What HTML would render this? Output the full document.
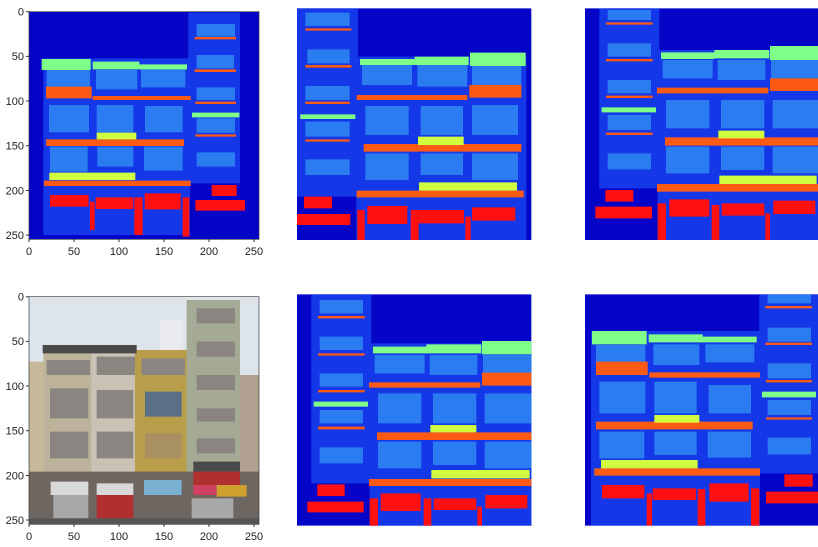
<!DOCTYPE html>
<html><head><meta charset="utf-8"><style>
html,body{margin:0;padding:0;background:#fff;width:818px;height:547px;overflow:hidden}
svg{display:block}
text{font-family:"Liberation Sans",sans-serif;font-size:11px;fill:#222}
.bg{fill:#0505c8}.bd{fill:#1438e8}.wi{fill:#2a7cf0}.or{fill:#ff5a14}.gr{fill:#80ff88}.ye{fill:#d0ff40}.re{fill:#ff1010}
</style></head><body>
<svg width="818" height="547" viewBox="0 0 818 547" xmlns="http://www.w3.org/2000/svg">
<!-- Panel 1 -->
<g transform="scale(0.33333)">
<path class="bg" d="M87 35H777V718H87Z"/>
<path class="bd" d="M130 175H570V705H130Z M565 38H720V550H565Z"/>
<path class="wi" d="M140 205H270V265H140Z M288 210H412V268H288Z M423 208H556V262H423Z M147 315H267V397H147Z M290 315H400V397H290Z M435 318H548V397H435Z M150 440H263V515H150Z M292 440H400V500H292Z M432 440H548V512H432Z M590 72H705V110H590Z M590 165H702V205H590Z M590 262H705V300H590Z M590 355H705V398H590Z M590 457H705V500H590Z"/>
<path class="or" d="M138 260H275V295H138Z M278 288H572V300H278Z M138 418H552V438H138Z M132 542H572V558H132Z M584 111H708V118H584Z M584 208H708V216H584Z M586 305H708V312H586Z M586 403H708V410H586Z"/>
<path class="gr" d="M125 177H272V210H125Z M278 185H418V208H278Z M418 193H561V208H418Z M576 338H718V352H576Z"/>
<path class="ye" d="M290 398H409V418H290Z M148 518H406V540H148Z"/>
<path class="re" d="M150 585H266V620H150Z M287 592H400V627H287Z M434 580H542V628H434Z M270 605H284V690H270Z M403 592H428V705H403Z M548 592H568V710H548Z M635 555H710V588H635Z M586 600H735V632H586Z"/>
<path d="M87 35H777V718H87Z" fill="none" stroke="#333" stroke-width="2"/>
</g>
<!-- Panel 2 -->
<g transform="translate(268,0) scale(0.33333)">
<path class="bg" d="M87 25H790V720H87Z"/>
<path class="bd" d="M87 25H270V590H87Z M265 170H775V720H265Z"/>
<path class="wi" d="M112 38H245V78H112Z M118 148H245V190H118Z M112 258H245V300H112Z M112 365H245V410H112Z M112 478H245V525H112Z M282 195H432V255H282Z M448 195H598V260H448Z M612 198H760V255H612Z M292 318H422V405H292Z M458 318H585V405H458Z M612 315H750V405H612Z M292 460H422V540H292Z M458 460H585V525H458Z M612 460H750V540H612Z"/>
<path class="or" d="M112 85H250V92H112Z M112 195H250V203H112Z M112 305H245V312H112Z M112 418H245V425H112Z M266 285H598V300H266Z M604 255H760V293H604Z M287 432H760V455H287Z M266 572H767V592H266Z"/>
<path class="gr" d="M97 343H262V357H97Z M276 177H440V195H276Z M440 170H602V195H440Z M606 158H773V198H606Z"/>
<path class="ye" d="M450 410H587V435H450Z M453 547H747V572H453Z"/>
<path class="re" d="M108 590H192V625H108Z M87 642H247V675H87Z M298 618H418V672H298Z M450 630H588V670H450Z M612 622H742V662H612Z M268 630H290V720H268Z M428 630H452V720H428Z M592 650H608V720H592Z"/>
</g>
<!-- Panel 3 -->
<g transform="translate(556,0) scale(0.33333)">
<path class="bg" d="M87 25H786V720H87Z"/>
<path class="bd" d="M130 25H310V565H130Z M305 150H786V720H305Z"/>
<path class="wi" d="M155 30H285V60H155Z M155 130H285V170H155Z M155 240H285V280H155Z M155 345H285V390H155Z M155 460H285V508H155Z M320 180H470V235H320Z M485 180H628V240H485Z M645 180H786V235H645Z M330 300H460V385H330Z M495 300H625V385H495Z M650 300H786V385H650Z M330 440H460V520H330Z M495 440H625V510H495Z M650 440H786V520H650Z"/>
<path class="or" d="M150 67H290V74H150Z M150 177H290V184H150Z M150 287H290V294H150Z M150 398H290V405H150Z M303 263H637V280H303Z M642 235H786V273H642Z M327 412H786V437H327Z M303 552H786V575H303Z"/>
<path class="gr" d="M137 322H300V337H137Z M315 157H475V177H315Z M475 150H640V175H475Z M642 138H786V180H642Z"/>
<path class="ye" d="M487 392H625V415H487Z M490 527H782V552H490Z"/>
<path class="re" d="M148 570H232V605H148Z M118 620H288V655H118Z M340 598H460V650H340Z M497 610H625V647H497Z M652 602H778V642H652Z M305 610H330V720H305Z M467 615H490V720H467Z M628 640H642V720H628Z"/>
</g>
<!-- Panel 4 photo -->
<g transform="translate(0,285) scale(0.33333)">
<path fill="#dde4ea" d="M87 35H777V718H87Z"/>
<path fill="#e8eaee" d="M480 105H550V200H480Z"/>
<path fill="#c8b89a" d="M87 230H135V710H87Z"/>
<path fill="#bdb39b" d="M130 185H275V710H130Z"/>
<path fill="#c9c2b5" d="M275 190H410V710H275Z"/>
<path fill="#b89e4a" d="M405 195H578V710H405Z"/>
<path fill="#a5aa95" d="M560 45H720V560H560Z"/>
<path fill="#b0a090" d="M720 270H777V710H720Z"/>
<path fill="#4a4a4a" d="M128 180H410V205H128Z M580 530H720V565H580Z"/>
<path fill="#8a8580" d="M150 310H265V400H150Z M290 315H400V400H290Z M150 440H265V520H150Z M290 440H400V520H290Z M140 225H270V270H140Z M290 215H405V270H290Z M425 220H555V270H425Z M590 70H705V115H590Z M590 170H705V215H590Z M590 270H705V315H590Z M590 370H705V410H590Z M590 460H705V505H590Z"/>
<path fill="#a89060" d="M435 445H545V520H435Z"/>
<path fill="#5a7088" d="M435 320H545V395H435Z"/>
<path fill="#6e6660" d="M87 560H777V710H87Z"/>
<path fill="#d8d8d8" d="M152 590H265V630H152Z M290 595H400V630H290Z"/>
<path fill="#b03030" d="M290 630H400V700H290Z M580 560H720V600H580Z"/>
<path fill="#7ab0d0" d="M432 585H545V630H432Z"/>
<path fill="#d04060" d="M580 600H650V630H580Z"/>
<path fill="#d0a030" d="M650 600H740V635H650Z"/>
<path fill="#a8a8a8" d="M575 640H700V710H575Z M160 630H265V700H160Z"/>
<path fill="#555" d="M87 700H777V718H87Z"/>
<path d="M87 35H777V718H87Z" fill="none" stroke="#333" stroke-width="2"/>
</g>
<!-- Panel 5 -->
<g transform="translate(268,285) scale(0.33333)">
<path class="bg" d="M87 28H790V722H87Z"/>
<path class="bd" d="M130 28H310V595H130Z M305 175H790V722H305Z"/>
<path class="wi" d="M155 45H285V85H155Z M155 155H285V195H155Z M155 265H285V305H155Z M155 375H285V415H155Z M155 487H285V535H155Z M320 210H470V265H320Z M485 210H628V270H485Z M645 210H790V265H645Z M330 325H460V415H330Z M495 325H625V415H495Z M650 325H790V415H650Z M330 470H460V550H330Z M495 470H625V540H495Z M650 470H790V550H650Z"/>
<path class="or" d="M150 93H290V100H150Z M150 205H290V212H150Z M150 315H290V322H150Z M150 425H290V433H150Z M303 292H637V308H303Z M642 263H790V302H642Z M327 442H790V465H327Z M303 582H790V603H303Z"/>
<path class="gr" d="M137 350H300V365H137Z M315 185H475V205H315Z M475 178H640V205H475Z M642 168H790V208H642Z"/>
<path class="ye" d="M487 420H625V442H487Z M490 555H785V580H490Z"/>
<path class="re" d="M148 598H230V633H148Z M118 650H287V682H118Z M338 625H458V678H338Z M497 640H625V675H497Z M652 630H778V670H652Z M305 640H330V722H305Z M467 640H490V722H467Z M628 665H642V722H628Z"/>
</g>
<!-- Panel 6 -->
<g transform="translate(556,285) scale(0.33333)">
<path class="bg" d="M87 28H786V722H87Z"/>
<path class="bd" d="M105 138H612V722H105Z M610 28H786V565H610Z"/>
<path class="wi" d="M635 28H765V55H635Z M635 128H765V170H635Z M635 235H765V280H635Z M635 345H765V390H635Z M635 458H765V508H635Z M120 180H268V232H120Z M292 178H430V240H292Z M448 178H595V232H448Z M130 290H268V385H130Z M295 290H422V385H295Z M458 300H585V385H458Z M130 440H265V520H130Z M295 440H422V510H295Z M455 440H585V518H455Z"/>
<path class="or" d="M628 63H768V70H628Z M628 173H768V180H628Z M630 285H768V292H630Z M630 397H768V404H630Z M120 230H275V270H120Z M280 262H612V278H280Z M120 410H590V433H120Z M115 550H612V572H115Z"/>
<path class="gr" d="M618 320H780V337H618Z M108 138H272V178H108Z M278 148H440V172H278Z M440 155H602V172H440Z"/>
<path class="ye" d="M295 390H430V413H295Z M135 525H425V550H135Z"/>
<path class="re" d="M138 600H265V640H138Z M290 610H420V645H290Z M460 595H578V650H460Z M272 625H288V722H272Z M425 612H448V722H425Z M585 610H610V722H585Z M685 568H770V605H685Z M630 620H786V655H630Z"/>
</g>
<!-- Axes ticks panel 1 -->
<g stroke="#333" stroke-width="1">
<path d="M26 11.7H29 M26 56.4H29 M26 101H29 M26 145.8H29 M26 190.5H29 M26 235H29"/>
<path d="M29 239V242 M74 239V242 M119 239V242 M164 239V242 M209 239V242 M254 239V242"/>
<path d="M26 296.7H29 M26 341.4H29 M26 386H29 M26 430.8H29 M26 475.5H29 M26 520H29"/>
<path d="M29 524V527 M74 524V527 M119 524V527 M164 524V527 M209 524V527 M254 524V527"/>
</g>
<g text-anchor="end">
<text x="24" y="15.5">0</text><text x="24" y="60">50</text><text x="24" y="105">100</text><text x="24" y="149.5">150</text><text x="24" y="194.5">200</text><text x="24" y="239">250</text>
<text x="24" y="300.5">0</text><text x="24" y="345">50</text><text x="24" y="390">100</text><text x="24" y="434.5">150</text><text x="24" y="479.5">200</text><text x="24" y="524">250</text>
</g>
<g text-anchor="middle">
<text x="29" y="255">0</text><text x="74" y="255">50</text><text x="119" y="255">100</text><text x="164" y="255">150</text><text x="209" y="255">200</text><text x="254" y="255">250</text>
<text x="29" y="540">0</text><text x="74" y="540">50</text><text x="119" y="540">100</text><text x="164" y="540">150</text><text x="209" y="540">200</text><text x="254" y="540">250</text>
</g>
</svg>
</body></html>
